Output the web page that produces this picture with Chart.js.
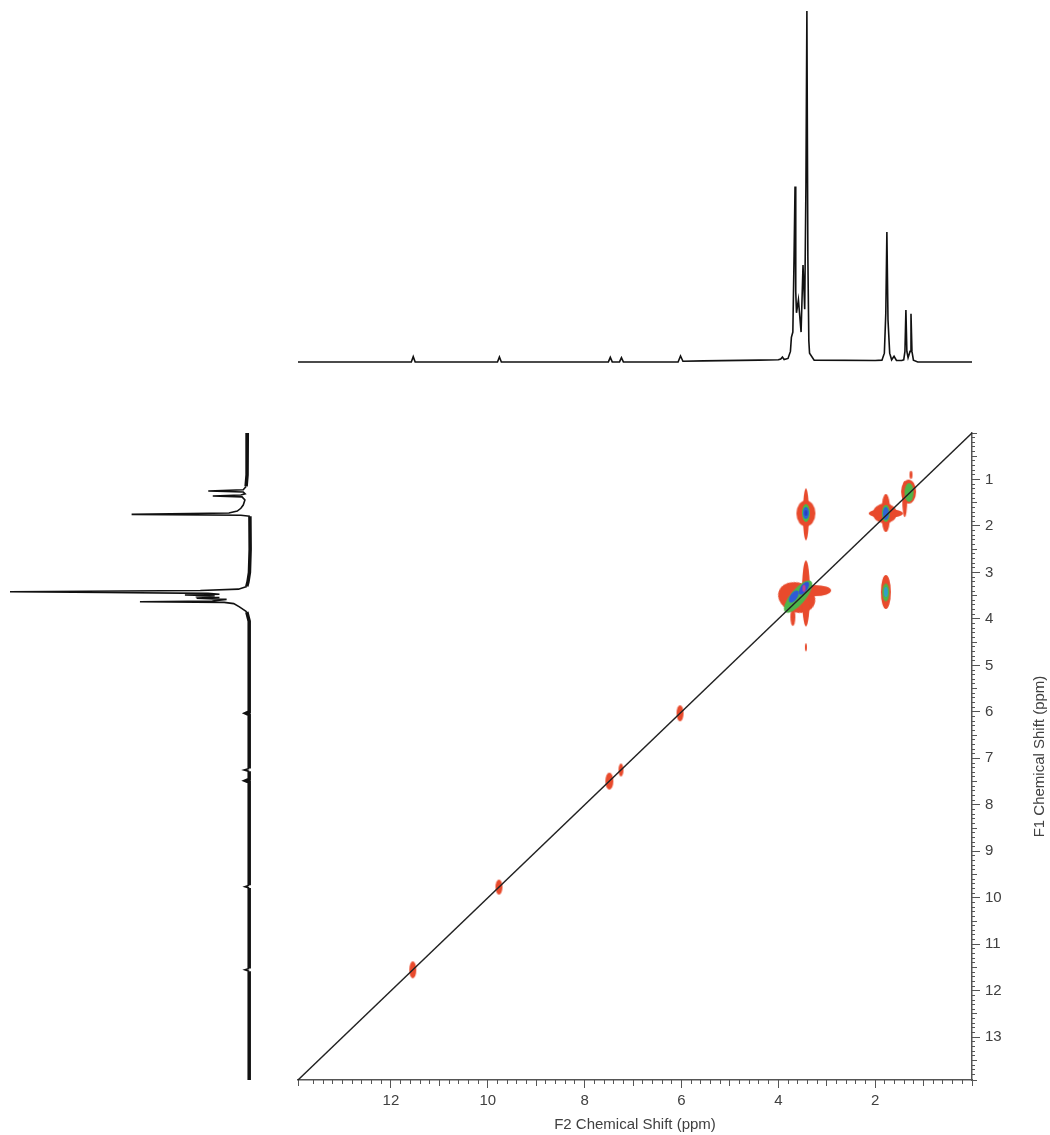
<!DOCTYPE html>
<html>
<head>
<meta charset="utf-8">
<script src="https://cdn.jsdelivr.net/npm/chart.js@4.4.1/dist/chart.umd.min.js"></script>
<style>
  body { margin: 0; background: #fff; }
  #wrap { position: relative; width: 1050px; height: 1135px; overflow: hidden; }
  canvas { position: absolute; }
  #top { left: 298px; top: 0; }
  #side { left: 0; top: 433px; }
  #main { left: 290px; top: 425px; }
</style>
</head>
<body>
<div id="wrap">
  <canvas id="top" width="674" height="370"></canvas>
  <canvas id="side" width="256" height="647"></canvas>
  <canvas id="main" width="760" height="710"></canvas>
</div>
<script>
// axis range (ppm) and tick labels
const axisMax = 13.92
const f2TickLabels = [12, 10, 8, 6, 4, 2]
const f1TickLabels = [1, 2, 3, 4, 5, 6, 7, 8, 9, 10, 11, 12, 13]

// F2 projection (top trace): chemical shift / relative intensity
const topPpm = [13.92, 11.58, 11.54, 11.50, 9.80, 9.76, 9.72, 7.51, 7.47, 7.43, 7.28, 7.24, 7.20,
  6.07, 6.02, 5.97, 5.55, 4.40, 4.00, 3.95, 3.915, 3.88, 3.80, 3.75, 3.73, 3.70, 3.675, 3.655,
  3.64, 3.625, 3.585, 3.53, 3.49, 3.455, 3.43, 3.41, 3.39, 3.37, 3.355, 3.26, 2.00, 1.86, 1.81,
  1.78, 1.758, 1.735, 1.70, 1.66, 1.61, 1.56, 1.45, 1.41, 1.385, 1.365, 1.345, 1.32, 1.28,
  1.26, 1.24, 1.21, 1.12, 0.25, 0]
const topInt = [0, 0, 1.5, 0, 0, 1.4, 0, 0, 1.3, 0, 0, 1.2, 0,
  0, 1.7, 0.2, 0.3, 0.5, 0.6, 0.8, 1.4, 0.7, 1.0, 3, 7, 8.5, 30, 50,
  20, 14, 17.7, 8.5, 27.6, 15, 50, 100, 30, 6, 2.5, 0.5, 0.4, 0.5, 2.5,
  14, 37, 12, 2.5, 0.6, 1.6, 0.4, 0.4, 0.6, 3, 14.8, 3, 1.2, 3,
  13.7, 3, 0.5, 0, 0, 0]

// F1 projection (left trace)
const sidePpm = [0, 0.9, 1.15, 1.22, 1.248, 1.27, 1.31, 1.335, 1.355, 1.375, 1.44, 1.55, 1.62,
  1.68, 1.72, 1.75, 1.77, 1.79, 2.5, 3.0, 3.2, 3.30, 3.36, 3.39, 3.414, 3.43, 3.45, 3.47,
  3.485, 3.50, 3.52, 3.54, 3.556, 3.58, 3.615, 3.63, 3.645, 3.67, 3.74, 3.85, 4.05, 6.00,
  6.03, 6.06, 7.22, 7.25, 7.28, 7.45, 7.48, 7.51, 9.73, 9.76, 9.79, 11.52, 11.55, 11.58, 13.92]
const sideInt = [0.3, 0.4, 0.8, 2, 16.7, 2, 1.2, 3, 14.8, 2.5, 1.3, 2, 3,
  4.5, 8, 48.9, 3, -0.8, -0.9, -0.6, 0, 0.5, 4, 20, 100, 60, 16.8, 12,
  26.5, 14, 22, 12, 21.6, 9, 15, 45.4, 10, 6, 3.6, 0.5, -0.5, -0.5,
  0.8, -0.5, -0.5, 1.6, -0.5, -0.5, 0.9, -0.5, -0.5, 1.3, -0.5, -0.5, 1.3, -0.5, -0.5]

// 2D contour levels: peak centres (F2, F1 in ppm)
const redF2 = [3.43, 3.43, 1.80, 1.78, 1.78, 1.31, 1.39, 1.26, 3.62, 3.24, 3.43, 3.70, 1.78, 3.43, 11.55, 9.77, 7.49, 7.25, 6.03]
const redF1 = [1.73, 1.75, 1.73, 1.73, 1.72, 1.26, 1.42, 0.90, 3.54, 3.39, 3.45, 3.96, 3.42, 4.61, 11.55, 9.77, 7.49, 7.25, 6.03]
const greenF2 = [3.43, 1.78, 1.30, 3.59, 1.78]
const greenF1 = [1.72, 1.73, 1.28, 3.52, 3.43]
const blueF2 = [3.43, 1.78, 3.68, 3.47, 1.78]
const blueF1 = [1.72, 1.73, 3.52, 3.34, 3.42]
const coreF2 = [3.43, 3.47]
const coreF1 = [1.72, 3.34]

// contour blob sizes in px (style only)
const redW = [19, 6, 24, 34, 9, 15, 5, 3, 38, 32, 8, 5, 10, 2, 7, 7, 8, 5, 7]
const redH = [26, 52, 20, 9, 38, 24, 36, 8, 30, 11, 66, 18, 34, 8, 17, 15, 17, 13, 16]
const redRot = [0, 0, 0, 0, 0, 0, 0, 0, 20, 0, 0, 0, 0, 0, 0, 0, 0, 0, 0]
const greenW = [8, 8, 9, 15, 7], greenH = [18, 17, 19, 40, 18], greenRot = [0, 0, 0, 40, 0]
const blueW = [6, 6, 7, 7, 4], blueH = [12, 13, 14, 15, 10], blueRot = [0, 0, 35, 35, 0]
const blueCol = ['#2f64d6', '#2f64d6', '#2f5ad8', '#3050d8', '#2fa0c8']
const coreW = [3, 3], coreH = [6, 7], coreCol = ['#2840c0', '#c8408c']

const FONT = 'Liberation Sans'
const TXT = '#404040'
const AX = '#555'

function ellipse(w, h, color) {
  const c = document.createElement('canvas')
  c.width = Math.ceil(w) + 2
  c.height = Math.ceil(h) + 2
  const g = c.getContext('2d')
  g.fillStyle = color
  g.beginPath()
  g.ellipse(c.width / 2, c.height / 2, w / 2, h / 2, 0, 0, Math.PI * 2)
  g.fill()
  return c
}

function blobSet(f2, f1, w, h, color, rot, order) {
  const imgs = f2.map((_, i) => ellipse(w[i], h[i], Array.isArray(color) ? color[i] : color))
  return {
    type: 'scatter',
    data: f2.map((x, i) => ({ x: x, y: f1[i] })),
    pointStyle: ctx => imgs[ctx.dataIndex],
    rotation: ctx => (rot ? rot[ctx.dataIndex] : 0),
    pointRadius: 1,
    order: order,
    clip: false
  }
}

const pts = (a, b) => a.map((v, i) => ({ x: v, y: b[i] }))
const hidden = { display: false }

// top projection
new Chart(document.getElementById('top'), {
  type: 'scatter',
  data: { datasets: [{
    data: pts(topPpm, topInt),
    showLine: true, pointRadius: 0, borderColor: '#111', borderWidth: 1.6, tension: 0, clip: false
  }] },
  options: {
    responsive: false, animation: false, events: [],
    layout: { autoPadding: false, padding: 0 },
    plugins: { legend: hidden, tooltip: { enabled: false } },
    scales: {
      x: { type: 'linear', min: 0, max: axisMax, reverse: true, display: false },
      y: { type: 'linear', min: -2.3, max: 103.1, display: false }
    }
  }
})

// left projection (intensity grows to the left)
new Chart(document.getElementById('side'), {
  type: 'scatter',
  data: { datasets: [{
    data: sidePpm.map((v, i) => ({ x: sideInt[i], y: v })),
    showLine: true, pointRadius: 0, borderColor: '#111', borderWidth: 1.5, tension: 0, clip: false,
    segment: {
      borderWidth: ctx => (Math.abs(ctx.p0.parsed.x) < 0.95 && Math.abs(ctx.p1.parsed.x) < 0.95 ? 3.5 : 1.6)
    }
  }] },
  options: {
    responsive: false, animation: false, events: [],
    layout: { autoPadding: false, padding: 0 },
    plugins: { legend: hidden, tooltip: { enabled: false } },
    scales: {
      x: { type: 'linear', min: -3.36, max: 104.2, reverse: true, display: false },
      y: { type: 'linear', min: 0, max: axisMax, reverse: true, display: false }
    }
  }
})

// rotated F1 title (reads bottom to top)
const f1Title = {
  id: 'f1Title',
  afterDraw(chart) {
    const { ctx, chartArea } = chart
    ctx.save()
    ctx.translate(chart.scales.y.right - 10, (chartArea.top + chartArea.bottom) / 2)
    ctx.rotate(-Math.PI / 2)
    ctx.font = '15px "' + FONT + '"'
    ctx.fillStyle = TXT
    ctx.textAlign = 'center'
    ctx.textBaseline = 'middle'
    ctx.fillText('F1 Chemical Shift (ppm)', 0, 0)
    ctx.restore()
  }
}

function tickAxis(axis, pos, step, len, size) {
  return {
    type: 'linear', axis: axis, position: pos, weight: 0,
    min: 0, max: axisMax, reverse: true,
    ticks: { stepSize: step, display: false },
    afterFit: s => {
      if (size === 'h') s.height = 0; else s.width = 0
      s.paddingTop = s.paddingBottom = s.paddingLeft = s.paddingRight = 0
    },
    grid: { drawOnChartArea: false, drawTicks: true, tickLength: len, tickColor: AX, tickWidth: 1 },
    border: { display: false }
  }
}

new Chart(document.getElementById('main'), {
  type: 'scatter',
  data: { datasets: [
    {
      type: 'line',
      data: [{ x: 0, y: 0 }, { x: axisMax, y: axisMax }],
      borderColor: '#222', borderWidth: 1.5, pointRadius: 0, order: 0, clip: false
    },
    blobSet(coreF2, coreF1, coreW, coreH, coreCol, null, 1),
    blobSet(blueF2, blueF1, blueW, blueH, blueCol, blueRot, 2),
    blobSet(greenF2, greenF1, greenW, greenH, '#4db54a', greenRot, 3),
    blobSet(redF2, redF1, redW, redH, '#e84a2c', redRot, 4)
  ] },
  options: {
    responsive: false, animation: false, events: [],
    layout: { autoPadding: false, padding: { left: 8, top: 8, right: 0, bottom: 0 } },
    plugins: { legend: hidden, tooltip: { enabled: false } },
    scales: {
      x: {
        type: 'linear', position: 'bottom', weight: 1,
        min: 0, max: axisMax, reverse: true,
        afterBuildTicks: s => { s.ticks = f2TickLabels.map(v => ({ value: v })) },
        afterFit: s => { s.height = 55; s.paddingLeft = s.paddingRight = 0 },
        grid: { drawOnChartArea: false, drawTicks: true, tickLength: 8, tickColor: AX, tickWidth: 1 },
        border: { display: true, color: AX, width: 1.5 },
        ticks: { padding: 4, color: TXT, maxRotation: 0, font: { family: FONT, size: 15 } },
        title: {
          display: true, text: 'F2 Chemical Shift (ppm)', color: TXT,
          font: { family: FONT, size: 15 }, padding: { top: 0, bottom: 1 }
        }
      },
      xMid: tickAxis('x', 'bottom', 1, 6, 'h'),
      xMinor: tickAxis('x', 'bottom', 0.2, 4, 'h'),
      y: {
        type: 'linear', position: 'right', weight: 1,
        min: 0, max: axisMax, reverse: true,
        afterBuildTicks: s => { s.ticks = f1TickLabels.map(v => ({ value: v })) },
        afterFit: s => { s.width = 78; s.paddingTop = s.paddingBottom = 0 },
        grid: { drawOnChartArea: false, drawTicks: true, tickLength: 8, tickColor: AX, tickWidth: 1 },
        border: { display: true, color: AX, width: 1.5 },
        ticks: { padding: 5, color: TXT, font: { family: FONT, size: 15 } }
      },
      yMid: tickAxis('y', 'right', 0.5, 5, 'w'),
      yMinor: tickAxis('y', 'right', 0.1, 3, 'w')
    }
  },
  plugins: [f1Title]
})
</script>
</body>
</html>
